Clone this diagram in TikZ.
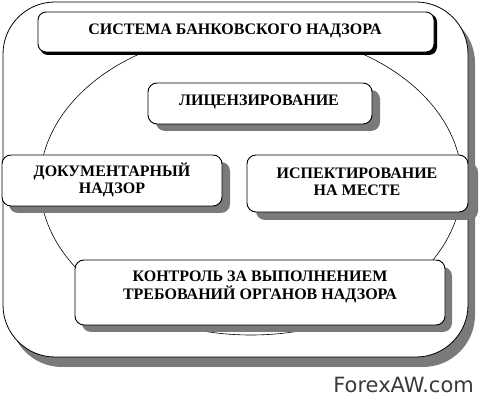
\documentclass[tikz,border=0pt]{standalone}
\usepackage{fontspec}
\setmainfont{Liberation Serif}[BoldFont={Liberation Serif Bold}]
\newfontfamily\boxfont{Liberation Serif Bold}
\newfontfamily\wmfont{DejaVu Sans}
\definecolor{shadowgray}{HTML}{7A7A7A}
\definecolor{wmgray}{HTML}{3A3A3A}
\tikzset{
  boxshadow/.style={fill=shadowgray, draw=none, rounded corners=9pt},
  boxmain/.style={fill=white, draw=black, line width=0.9pt, rounded corners=9pt},
  boxtext/.style={font=\boxfont\fontsize{16}{17.5}\selectfont, align=center, inner sep=0pt},
}
\begin{document}
\begin{tikzpicture}[x=1pt,y=-1pt]
\useasboundingbox (0,0) rectangle (480,406);
% outer frame
\fill[shadowgray, rounded corners=52pt] (10,11) rectangle (475,367);
\draw[fill=white, line width=0.8pt, rounded corners=52pt] (3,2) rectangle (468,357);
% ellipse
\draw[line width=0.6pt] (251,183) ellipse [x radius=211, y radius=152];
% top box
\fill[black, rounded corners=8pt] (40,14) rectangle (437,55);
\draw[boxmain, rounded corners=8pt] (38,12) rectangle (434,52);
\node[boxtext] (sys) at (235,31) {СИСТЕМА БАНКОВСКОГО НАДЗОРА};
% licensing
\fill[boxshadow] (156,90) rectangle (380,131);
\draw[boxmain] (148,83) rectangle (372,124);
\node[boxtext] (lic) at (259,102) {ЛИЦЕНЗИРОВАНИЕ};
% documentary
\fill[boxshadow] (9,162) rectangle (230,213);
\draw[boxmain] (2,155) rectangle (222,206);
\node[boxtext] (doc) at (112,180) {ДОКУМЕНТАРНЫЙ\\НАДЗОР};
% inspection
\fill[boxshadow] (256,163) rectangle (478,220);
\draw[boxmain] (247,155) rectangle (468,212);
\node[boxtext] (insp) at (357,182) {ИСПЕКТИРОВАНИЕ\\НА МЕСТЕ};
% control
\fill[boxshadow] (82,267) rectangle (452,332);
\draw[boxmain] (75,260) rectangle (445,325);
\node[boxtext] (ctrl) at (260,287) {КОНТРОЛЬ ЗА ВЫПОЛНЕНИЕМ\\ТРЕБОВАНИЙ ОРГАНОВ НАДЗОРА};
% watermark
\node[anchor=base east, inner sep=0pt, text=wmgray, font=\wmfont\fontsize{21}{24}\selectfont] (wm) at (474,393) {ForexAW.com};
\end{tikzpicture}
\end{document}
